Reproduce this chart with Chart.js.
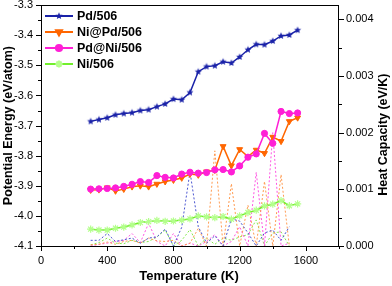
<!DOCTYPE html>
<html>
<head>
<meta charset="utf-8">
<script src="https://cdn.jsdelivr.net/npm/chart.js"></script>
<style>
  html, body { margin: 0; padding: 0; background: #fff; }
  #wrap { width: 392px; height: 286px; }
</style>
</head>
<body>
<div id="wrap"><canvas id="myChart" width="392" height="286"></canvas></div>
<script>
// temperatures (K)
const temps = [300, 350, 400, 450, 500, 550, 600, 650, 700, 750, 800, 850, 900, 950,
               1000, 1050, 1100, 1150, 1200, 1250, 1300, 1350, 1400, 1450, 1500, 1550];
const cpTemps = [300, 350, 400, 450, 500, 550, 600, 650, 700, 750, 800, 850, 900, 950,
                 1000, 1050, 1100, 1150, 1200, 1250, 1300, 1350, 1400, 1450, 1500];

// potential energy (eV/atom)
const pdEnergy   = [-3.686, -3.680, -3.674, -3.664, -3.660, -3.657, -3.650, -3.647, -3.637, -3.628, -3.612, -3.614, -3.590,
                    -3.521, -3.504, -3.501, -3.488, -3.492, -3.472, -3.448, -3.430, -3.431, -3.419, -3.402, -3.399, -3.383];
const niPdEnergy = [-3.914, -3.913, -3.906, -3.917, -3.911, -3.903, -3.900, -3.903, -3.894, -3.886, -3.881, -3.874, -3.861,
                    -3.864, -3.853, -3.848, -3.769, -3.833, -3.779, -3.803, -3.781, -3.792, -3.738, -3.752, -3.686, -3.674];
const pdNiEnergy = [-3.911, -3.910, -3.909, -3.907, -3.902, -3.895, -3.886, -3.889, -3.866, -3.872, -3.874, -3.861, -3.855,
                    -3.858, -3.856, -3.847, -3.846, -3.854, -3.834, -3.805, -3.794, -3.726, -3.759, -3.653, -3.660, -3.658];
const niEnergy   = [-4.044, -4.047, -4.047, -4.041, -4.037, -4.030, -4.022, -4.019, -4.015, -4.018, -4.017, -4.014, -4.010,
                    -4.000, -4.003, -4.006, -4.002, -4.011, -4.000, -3.989, -3.981, -3.967, -3.961, -3.949, -3.966, -3.960];

// heat capacity (eV/K)
const pdCp   = [0.00010, 0.00010, 0.00022, 0.00008, 0.00011, 0.00014, 0.00005, 0.00014, 0.00016, 0.00030, 0.0, 0.00033, 0.00131,
                0.00034, 0.00005, 0.00018, 0.0, 0.00048, 0.00044, 0.00023, 0.0, 0.00023, 0.00028, 0.00010, 0.00034];
const niPdCp = [0.00002, 0.00003, 0.00007, 0.00003, 0.00008, 0.00010, 0.00005, 0.00014, 0.00009, 0.00008, 0.00010, 0.0, 0.00005,
                0.00031, 0.0, 0.00168, 0.0, 0.00110, 0.0, 0.00072, 0.0, 0.00114, 0.0, 0.00126, 0.0];
const pdNiCp = [0.0, 0.00003, 0.00005, 0.00008, 0.00010, 0.00022, 0.00006, 0.00040, 0.00008, 0.0, 0.00022, 0.0, 0.00005,
                0.0, 0.00008, 0.00020, 0.0, 0.00008, 0.00034, 0.0, 0.00130, 0.0, 0.00200, 0.0, 0.00005];
const niCp   = [0.00002, 0.00006, 0.00014, 0.00005, 0.00004, 0.00010, 0.00006, 0.00008, 0.00016, 0.00028, 0.0, 0.00010, 0.00029,
                0.0, 0.00014, 0.00003, 0.00014, 0.00010, 0.00016, 0.00020, 0.00046, 0.0, 0.00023, 0.00025, 0.0];

const labels = ['Pd/506', 'Ni@Pd/506', 'Pd@Ni/506', 'Ni/506'];
const xTicks = [0, 400, 800, 1200, 1600];
const yTicks = [-4.1, -4.0, -3.9, -3.8, -3.7, -3.6, -3.5, -3.4, -3.3];
const y2Ticks = [0, 0.001, 0.002, 0.003, 0.004];

const FONT = 'Arial, "Liberation Sans", sans-serif';

// filled star marker
function starImage(color, r) {
    const c = document.createElement('canvas');
    const s = Math.ceil(r * 2 + 2);
    c.width = s; c.height = s;
    const g = c.getContext('2d');
    g.fillStyle = color;
    g.beginPath();
    for (let i = 0; i < 10; i++) {
        const rr = i % 2 === 0 ? r : r * 0.45;
        const a = -Math.PI / 2 + i * Math.PI / 5;
        const px = s / 2 + rr * Math.cos(a), py = s / 2 + rr * Math.sin(a);
        if (i === 0) g.moveTo(px, py); else g.lineTo(px, py);
    }
    g.closePath();
    g.fill();
    return c;
}
const pdStar = starImage('#1a22a8', 3.7);

function pts(xs, ys) {
    return ys.map((v, i) => ({ x: xs[i], y: v }));
}

const peStyles = [
    { color: '#1a22a8', pointStyle: pdStar, radius: 3.5, rotation: 0, fill: '#1a22a8' },
    { color: '#ff6600', pointStyle: 'triangle', radius: 3.4, rotation: 180, fill: '#ff6600' },
    { color: '#ff1fd6', pointStyle: 'circle', radius: 3.1, rotation: 0, fill: '#ff1fd6' },
    { color: '#72ee2c', pointStyle: 'star', radius: 3.6, rotation: 0, fill: '#b4ff8c' }
];
const cpColors = ['#4a55d0', '#ff9a50', '#ff55e2', '#86ea52'];

const peData = [pdEnergy, niPdEnergy, pdNiEnergy, niEnergy];
const cpData = [pdCp, niPdCp, pdNiCp, niCp];
const peOrder = [0, 2, 1, 3];

const datasets = [];
peData.forEach((d, i) => {
    const s = peStyles[i];
    datasets.push({
        label: labels[i],
        data: pts(temps, d),
        yAxisID: 'y',
        borderColor: s.color,
        backgroundColor: s.fill,
        pointBorderColor: i === 3 ? s.fill : s.color,
        pointBackgroundColor: s.fill,
        pointStyle: s.pointStyle,
        pointRadius: s.radius,
        pointRotation: s.rotation,
        pointBorderWidth: i === 3 ? 1.2 : 1,
        borderWidth: 1.5,
        tension: 0,
        order: peOrder[i]
    });
});
cpData.forEach((d, i) => {
    datasets.push({
        label: labels[i] + ' Cp',
        data: pts(cpTemps, d),
        yAxisID: 'y2',
        borderColor: cpColors[i],
        borderWidth: 1,
        borderDash: [2, 2],
        pointRadius: 0,
        tension: 0,
        order: 4 + i
    });
});

// frame, minor/major ticks, titles, legend
const decor = {
    id: 'decor',
    afterDraw(chart) {
        const ctx = chart.ctx;
        const a = chart.chartArea;
        const sx = chart.scales.x, sy = chart.scales.y, sy2 = chart.scales.y2;
        ctx.save();
        ctx.strokeStyle = '#000';
        ctx.lineWidth = 1;
        ctx.strokeRect(Math.round(a.left) + 0.5, Math.round(a.top) + 0.5,
                       Math.round(a.right - a.left) - 1, Math.round(a.bottom - a.top));
        ctx.beginPath();
        for (let v = 0; v <= 1800; v += 200) {
            const px = Math.round(sx.getPixelForValue(v)) + 0.5;
            const len = v % 400 === 0 ? 5 : 3;
            ctx.moveTo(px, a.bottom); ctx.lineTo(px, a.bottom + len);
        }
        for (let k = 0; k <= 16; k++) {
            const v = -4.1 + k * 0.05;
            const py = Math.round(sy.getPixelForValue(v)) + 0.5;
            const len = k % 2 === 0 ? 5 : 3;
            ctx.moveTo(a.left, py); ctx.lineTo(a.left - len, py);
        }
        for (let k = 0; k <= 8; k++) {
            const v = k * 0.0005;
            const py = Math.round(sy2.getPixelForValue(v)) + 0.5;
            const len = k % 2 === 0 ? 5 : 3;
            ctx.moveTo(a.right, py); ctx.lineTo(a.right + len, py);
        }
        ctx.stroke();

        // axis titles
        ctx.fillStyle = '#000';
        ctx.textAlign = 'center';
        ctx.textBaseline = 'middle';
        ctx.font = 'bold 13px ' + FONT;
        ctx.fillText('Temperature (K)', (a.left + a.right) / 2 - 1, 276);
        ctx.font = 'bold 12.5px ' + FONT;
        ctx.save();
        ctx.translate(9, (a.top + a.bottom) / 2);
        ctx.rotate(-Math.PI / 2);
        ctx.fillText('Potential Energy (eV/atom)', 0, 0);
        ctx.restore();
        ctx.save();
        ctx.translate(384, (a.top + a.bottom) / 2 + 9);
        ctx.rotate(-Math.PI / 2);
        ctx.fillText('Heat Capacity (eV/K)', 0, 0);
        ctx.restore();

        // legend
        ctx.textAlign = 'left';
        ctx.font = 'bold 12.5px ' + FONT;
        for (let i = 0; i < 4; i++) {
            const ds = chart.data.datasets[i];
            const y = 16 + i * 16;
            ctx.strokeStyle = ds.borderColor;
            ctx.lineWidth = 2;
            ctx.beginPath();
            ctx.moveTo(45, y); ctx.lineTo(73, y);
            ctx.stroke();
            ctx.fillStyle = ds.pointBackgroundColor;
            ctx.strokeStyle = ds.pointBorderColor;
            Chart.helpers.drawPoint(ctx, {
                pointStyle: ds.pointStyle,
                radius: ds.pointRadius,
                rotation: ds.pointRotation,
                borderWidth: ds.pointBorderWidth
            }, 59, y);
            ctx.fillStyle = '#000';
            ctx.fillText(ds.label, 77, y + 1);
        }
        ctx.restore();
    }
};

function noPadV(s) { s.paddingTop = 0; s.paddingBottom = 0; }
function noPadH(s) { s.paddingLeft = 0; s.paddingRight = 0; }

const ctx = document.getElementById('myChart').getContext('2d');
const myChart = new Chart(ctx, {
    type: 'line',
    data: { datasets: datasets },
    plugins: [decor],
    options: {
        responsive: false,
        animation: false,
        devicePixelRatio: 1,
        layout: { padding: { top: 5, left: 0, right: 0, bottom: 0 } },
        plugins: {
            legend: { display: false },
            tooltip: { enabled: false }
        },
        scales: {
            x: {
                type: 'linear',
                min: 0,
                max: 1800,
                afterBuildTicks: (s) => { s.ticks = xTicks.map(v => ({ value: v })); },
                afterFit: (s) => { s.height = 40; noPadH(s); },
                grid: { display: false, drawTicks: false },
                border: { display: false },
                ticks: {
                    color: '#000', padding: 8, font: { family: FONT, size: 11 },
                    callback: (v) => String(v)
                }
            },
            y: {
                position: 'left',
                min: -4.1,
                max: -3.3,
                afterBuildTicks: (s) => { s.ticks = yTicks.map(v => ({ value: v })); },
                afterFit: (s) => { s.width = 41; noPadV(s); },
                grid: { display: false, drawTicks: false },
                border: { display: false },
                ticks: {
                    color: '#000', padding: 8, font: { family: FONT, size: 11 },
                    callback: (v) => v.toFixed(1)
                }
            },
            y2: {
                position: 'right',
                min: 0,
                max: 0.00425,
                afterBuildTicks: (s) => { s.ticks = y2Ticks.map(v => ({ value: v })); },
                afterFit: (s) => { s.width = 53; noPadV(s); },
                grid: { display: false, drawTicks: false },
                border: { display: false },
                ticks: {
                    color: '#000', padding: 7, font: { family: FONT, size: 11 },
                    callback: (v) => v.toFixed(3)
                }
            }
        }
    }
});
</script>
</body>
</html>
